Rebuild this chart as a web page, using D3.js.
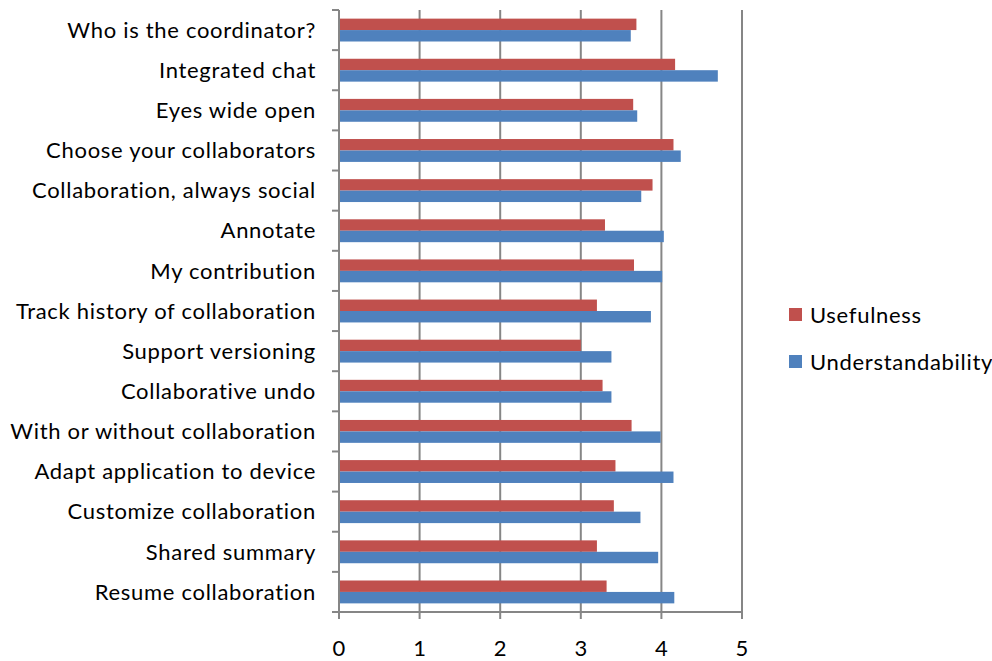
<!DOCTYPE html>
<html>
<head>
<meta charset="utf-8">
<script src="https://cdn.jsdelivr.net/npm/d3@7"></script>
<style>
  body { margin: 0; background: #fff; }
  text { font-family: Lato, "Open Sans", sans-serif; fill: #000; letter-spacing: 0.7px; }
</style>
</head>
<body>
<svg id="chart" width="992" height="661"></svg>
<script>
// categories top to bottom
const categories = [
  'Who is the coordinator?',
  'Integrated chat',
  'Eyes wide open',
  'Choose your collaborators',
  'Collaboration, always social',
  'Annotate',
  'My contribution',
  'Track history of collaboration',
  'Support versioning',
  'Collaborative undo',
  'With or without collaboration',
  'Adapt application to device',
  'Customize collaboration',
  'Shared summary',
  'Resume collaboration'
];
const usefulness = [3.69, 4.17, 3.65, 4.15, 3.89, 3.30, 3.66, 3.20, 3.00, 3.27, 3.63, 3.43, 3.41, 3.20, 3.32];
const understandability = [3.62, 4.70, 3.70, 4.24, 3.75, 4.03, 4.01, 3.87, 3.38, 3.38, 3.99, 4.15, 3.74, 3.96, 4.16];
const seriesNames = ['Usefulness', 'Understandability'];
const seriesColors = ['#C0504D', '#4F81BD'];
const xTicks = [0, 1, 2, 3, 4, 5];

const svg = d3.select('#chart');
const plotLeft = 339, plotRight = 742, plotTop = 10, plotBottom = 612;
const gridColor = '#868686';
const fontSize = 22;

const x = d3.scaleLinear().domain([0, 5]).range([plotLeft, plotRight]);
const y = d3.scaleBand().domain(categories).range([plotTop, plotBottom]).paddingInner(0.43).paddingOuter(0.215);
const ySub = d3.scaleBand().domain(seriesNames).range([0, y.bandwidth()]);

// vertical gridlines
svg.append('g')
  .selectAll('line')
  .data(xTicks.slice(1))
  .join('line')
  .attr('x1', d => x(d)).attr('x2', d => x(d))
  .attr('y1', plotTop).attr('y2', plotBottom)
  .attr('stroke', gridColor).attr('stroke-width', 2);

// bars
const rows = categories.map((c, i) => ({ cat: c, vals: [usefulness[i], understandability[i]] }));
const rowG = svg.append('g').selectAll('g')
  .data(rows)
  .join('g')
  .attr('transform', d => `translate(0,${y(d.cat)})`);

rowG.selectAll('rect')
  .data(d => d.vals.map((v, j) => ({ name: seriesNames[j], v, color: seriesColors[j] })))
  .join('rect')
  .attr('x', x(0))
  .attr('y', d => ySub(d.name))
  .attr('width', d => x(d.v) - x(0))
  .attr('height', ySub.bandwidth())
  .attr('fill', d => d.color);

// left axis
const yBounds = d3.range(categories.length + 1).map(i => plotTop + i * (plotBottom - plotTop) / categories.length);
const yAxisG = svg.append('g');
yAxisG.append('line')
  .attr('x1', plotLeft).attr('x2', plotLeft).attr('y1', plotTop).attr('y2', plotBottom)
  .attr('stroke', gridColor).attr('stroke-width', 2);
yAxisG.selectAll('line.tick')
  .data(yBounds)
  .join('line')
  .attr('class', 'tick')
  .attr('x1', plotLeft - 7).attr('x2', plotLeft)
  .attr('y1', d => d).attr('y2', d => d)
  .attr('stroke', gridColor).attr('stroke-width', 2);
yAxisG.selectAll('text')
  .data(categories)
  .join('text')
  .attr('x', 316)
  .attr('y', d => y(d) + y.bandwidth() / 2)
  .attr('dy', '0.35em')
  .attr('text-anchor', 'end')
  .attr('font-size', fontSize)
  .text(d => d);

// bottom axis
const xAxisG = svg.append('g');
xAxisG.append('line')
  .attr('x1', plotLeft - 7).attr('x2', plotRight).attr('y1', plotBottom).attr('y2', plotBottom)
  .attr('stroke', gridColor).attr('stroke-width', 2);
xAxisG.selectAll('line.tick')
  .data(xTicks)
  .join('line')
  .attr('class', 'tick')
  .attr('x1', d => x(d)).attr('x2', d => x(d))
  .attr('y1', plotBottom).attr('y2', plotBottom + 7)
  .attr('stroke', gridColor).attr('stroke-width', 2);
xAxisG.selectAll('text')
  .data(xTicks)
  .join('text')
  .attr('x', d => x(d))
  .attr('y', 656)
  .attr('text-anchor', 'middle')
  .attr('font-size', fontSize)
  .style('letter-spacing', '0px')
  .text(d => d);

// legend
const legend = svg.append('g').selectAll('g')
  .data(seriesNames)
  .join('g')
  .attr('transform', (d, i) => `translate(789,${308 + i * 47})`);
legend.append('rect')
  .attr('width', 13).attr('height', 13)
  .attr('fill', (d, i) => seriesColors[i]);
legend.append('text')
  .attr('x', 21).attr('y', 7)
  .attr('dy', '0.35em')
  .attr('font-size', fontSize)
  .text(d => d);
</script>
</body>
</html>
